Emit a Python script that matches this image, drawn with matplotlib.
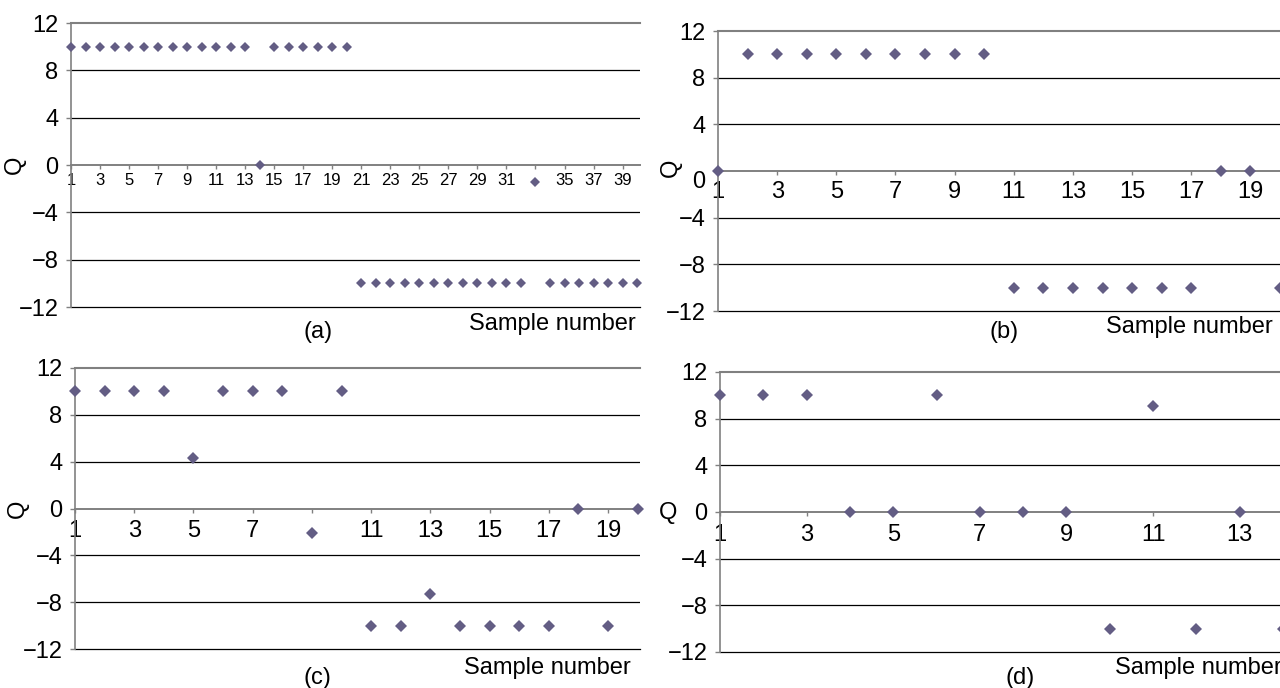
import matplotlib
matplotlib.use("Agg")
from matplotlib import pyplot as plt

plt.rcParams['font.family'] = ['Liberation Sans', 'DejaVu Sans']

# Q value for every sample
sample_a = list(range(1, 41))
q_a = [10, 10, 10, 10, 10, 10, 10, 10, 10, 10, 10, 10, 10, 0, 10, 10, 10, 10, 10, 10,
       -10, -10, -10, -10, -10, -10, -10, -10, -10, -10, -10, -10, -1.4,
       -10, -10, -10, -10, -10, -10, -10]

sample_b = list(range(1, 21))
q_b = [0, 10, 10, 10, 10, 10, 10, 10, 10, 10,
       -10, -10, -10, -10, -10, -10, -10, 0, 0, -10]

sample_c = list(range(1, 21))
q_c = [10, 10, 10, 10, 4.3, 10, 10, 10, -2.1, 10,
       -10, -10, -7.3, -10, -10, -10, -10, 0, -10, 0]

sample_d = list(range(1, 15))
q_d = [10, 10, 10, 0, 0, 10, 0, 0, 0, -10, 9.1, -10, 0, -10]

y_ticks = [-12, -8, -4, 0, 4, 8, 12]
y_labels = ['\u221212', '\u22128', '\u22124', '0', '4', '8', '12']

W, H = 1280, 688
fig = plt.figure(figsize=(W / 100, H / 100), dpi=100)
MARKER = '#635d84'
GRAY = '#808080'


def panel(box, x, q, xmax, odd_last, hidden, ms, xfs, xpad, qpos, qrot):
    left, top, right, bottom = box
    ax = fig.add_axes([left / W, 1 - bottom / H, (right - left) / W, (bottom - top) / H])
    ax.plot(x, q, linestyle='none', marker='D', ms=ms, mew=0, color=MARKER,
            clip_on=False, zorder=5)
    ax.set_xlim(1, xmax)
    ax.set_ylim(-12, 12)

    ax.set_yticks(y_ticks)
    ax.set_yticklabels(y_labels)
    xt = list(range(1, odd_last + 1, 2))
    ax.set_xticks(xt)
    # the label under a marker is not shown
    ax.set_xticklabels(['' if v == hidden else str(v) for v in xt])

    for s in ['top', 'right']:
        ax.spines[s].set_visible(False)
    ax.spines['bottom'].set_position(('data', 0))
    ax.spines['bottom'].set_color(GRAY)
    ax.spines['bottom'].set_linewidth(1.4)
    ax.spines['bottom'].set_zorder(3)
    ax.spines['left'].set_color(GRAY)
    ax.spines['left'].set_linewidth(1.2)

    ax.yaxis.grid(True, color='black', linewidth=0.9)
    ax.set_axisbelow(True)
    grid = ax.yaxis.get_gridlines()
    grid[3].set_visible(False)
    grid[0].set_clip_on(False)
    grid[6].set_clip_on(False)
    grid[6].set_color(GRAY)
    grid[6].set_linewidth(1.5)

    ax.tick_params(axis='y', direction='out', length=3.5, width=1, color=GRAY,
                   labelsize=17, pad=5.5)
    ax.tick_params(axis='x', direction='out', length=3, width=1, color=GRAY,
                   labelsize=xfs, pad=xpad)

    qx, qy = qpos
    ax.yaxis.set_label_coords((qx - left) / (right - left), (bottom - qy) / (bottom - top))
    ax.set_ylabel('Q', fontsize=17, rotation=qrot, va='center', ha='center')
    return ax


def label(x, y, s, ha='center'):
    fig.text(x / W, 1 - y / H, s, fontsize=17, ha=ha, va='center')


ax_a = panel((71, 23, 640, 307), sample_a, q_a, 40.2, 39, 33, 5.2, 12, 2.5, (15, 165), 90)
ax_b = panel((718, 31, 1280, 311), sample_b, q_b, 20, 19, None, 6, 17, 4.5, (671, 168), 90)
ax_c = panel((75, 368, 640, 649), sample_c, q_c, 20.08, 19, 9, 6, 17, 5, (18, 509), 90)
ax_d = panel((720, 372, 1280, 652), sample_d, q_d, 13.93, 13, None, 6, 17, 5.5, (668, 513), 0)

# in (b) the "0" label sits below its tick
ax_b.get_yticklabels()[3].set_va('top')

label(636, 324, 'Sample number', ha='right')
label(1273, 327, 'Sample number', ha='right')
label(631, 668, 'Sample number', ha='right')
label(1115, 668, 'Sample number', ha='left')

label(318, 332, '(a)')
label(1004, 332, '(b)')
label(317, 678, '(c)')
label(1020, 678, '(d)')

fig.savefig('out.png', dpi=100)
